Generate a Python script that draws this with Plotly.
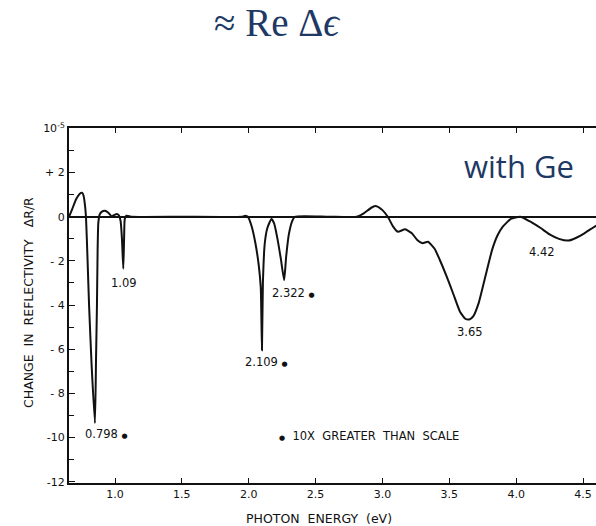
import plotly.graph_objects as go

# Photon energy (eV) and change in reflectivity (units of 1e-5)
energy = [0.656, 0.68, 0.71, 0.735, 0.755, 0.765, 0.775, 0.783, 0.795, 0.806, 0.825, 0.85,
          0.858, 0.865, 0.870, 0.875, 0.885, 0.90, 0.925, 0.95, 0.975, 0.995, 1.015, 1.03,
          1.042, 1.052, 1.062, 1.068, 1.073, 1.085, 1.10, 1.12, 1.5, 1.95, 1.975, 1.994,
          2.02, 2.05, 2.075, 2.09, 2.099, 2.106, 2.12, 2.14, 2.17, 2.19, 2.215, 2.24, 2.265,
          2.28, 2.30, 2.325, 2.345, 2.6, 2.81, 2.86, 2.92, 2.955, 3.00, 3.04, 3.08, 3.115,
          3.17, 3.22, 3.26, 3.30, 3.34, 3.39, 3.43, 3.48, 3.53, 3.58, 3.62, 3.65, 3.68,
          3.72, 3.77, 3.82, 3.86, 3.90, 3.96, 4.03, 4.10, 4.18, 4.25, 4.32, 4.39, 4.45,
          4.51, 4.56, 4.60]
dr_r = [0.0, 0.35, 0.8, 1.03, 1.08, 0.95, 0.55, 0.0, -2.0, -4.0, -6.7, -9.35,
        -6.5, -4.0, -1.5, -0.3, 0.1, 0.22, 0.27, 0.18, 0.02, 0.08, 0.12, 0.05,
        -0.2, -1.0, -2.35, -1.0, -0.1, 0.05, 0.03, 0.0, 0.0, 0.0, 0.05, 0.0,
        -0.4, -1.2, -2.2, -3.2, -6.05, -3.0, -1.2, -0.5, -0.1, -0.3, -1.0, -1.9, -2.87,
        -1.8, -0.8, -0.2, 0.0, 0.0, 0.0, 0.15, 0.42, 0.48, 0.3, 0.0, -0.45, -0.68,
        -0.57, -0.75, -1.05, -1.2, -1.13, -1.45, -1.97, -2.7, -3.5, -4.3, -4.62, -4.65, -4.5,
        -3.9, -2.7, -1.5, -0.85, -0.45, -0.1, 0.0, -0.2, -0.5, -0.8, -1.0, -1.08, -0.95,
        -0.75, -0.55, -0.4]

DOT = "<span style='font-size:7px'>\u25cf</span>"
peak_labels = ["1.09", "2.322 " + DOT, "2.109 " + DOT, "0.798 " + DOT, "3.65", "4.42"]
peak_x = [1.067, 2.338, 2.136, 0.933, 3.653, 4.191]
peak_y = [-3.0, -3.46, -6.58, -9.84, -5.22, -1.6]

y_tickvals = [-12, -10, -8, -6, -4, -2, 0, 2, 4]
y_ticktext = ["-12", "-10", "- 8", "- 6", "- 4", "- 2", "0", "+ 2", "10<sup>-5</sup>"]

ink = "#111111"
blue = "#203864"
lab_font = dict(family="DejaVu Sans", size=11.5, color=ink)
tick_font = dict(family="DejaVu Sans", size=11, color=ink)

fig = go.Figure()
fig.add_trace(go.Scatter(x=energy, y=dr_r, mode="lines",
                         line=dict(color="#111111", width=2, shape="spline", smoothing=0.5),
                         hoverinfo="skip", showlegend=False))

for t, xv, yv in zip(peak_labels, peak_x, peak_y):
    fig.add_annotation(x=xv, y=yv, text=t, showarrow=False, font=lab_font,
                       xanchor="center", yanchor="middle")

fig.add_annotation(x=2.211, y=-9.93, text=DOT + "  10X  GREATER  THAN  SCALE", showarrow=False,
                   font=lab_font, xanchor="left", yanchor="middle")

# Title-like texts
fig.add_annotation(xref="paper", yref="paper", x=(277 - 69) / 527, y=1 + (128 - 23) / 355,
                   text="\u2248 Re \u0394<i>\u03f5</i>", showarrow=False,
                   font=dict(family="Liberation Serif", size=39, color=blue),
                   xanchor="center", yanchor="middle")
fig.add_annotation(xref="paper", yref="paper", x=(576 - 69) / 527, y=(483 - 166) / 355,
                   text="with Ge", showarrow=False,
                   font=dict(family="Open Sans", size=31, color=blue),
                   xanchor="right", yanchor="middle")

fig.add_annotation(xref="paper", yref="paper", x=(319 - 69) / 527, y=-(518 - 483) / 355,
                   text="PHOTON  ENERGY  (eV)", showarrow=False,
                   font=dict(family="DejaVu Sans", size=12.5, color=ink),
                   xanchor="center", yanchor="middle")
fig.add_annotation(xref="paper", yref="paper", x=-(69 - 28) / 527, y=(483 - 303) / 355,
                   text="CHANGE  IN  REFLECTIVITY   \u0394R/R", showarrow=False,
                   font=dict(family="DejaVu Sans", size=12.5, color=ink),
                   textangle=-90, xanchor="center", yanchor="middle")

fig.update_xaxes(range=[0.656, 4.597], tick0=0, dtick=0.5, tickformat=".1f",
                 ticks="inside", ticklen=5, tickwidth=1.2, tickcolor=ink,
                 showline=True, linecolor=ink, linewidth=1.5, mirror="ticks",
                 showgrid=False, zeroline=False, tickfont=tick_font)
fig.update_yaxes(range=[-12.06, 4.02], tickvals=y_tickvals, ticktext=y_ticktext,
                 ticks="inside", ticklen=6, tickwidth=1.2, tickcolor=ink,
                 minor=dict(tickvals=[-11, -9, -7, -5, -3, -1, 1, 3], ticks="inside",
                            ticklen=5, tickwidth=1.2, tickcolor=ink),
                 showline=True, linecolor=ink, linewidth=2,
                 showgrid=False, zeroline=True, zerolinecolor=ink, zerolinewidth=1.5,
                 tickfont=tick_font)

fig.update_layout(width=596, height=526, margin=dict(l=69, r=0, t=128, b=43),
                  paper_bgcolor="white", plot_bgcolor="white")

fig.write_html("out.html")
